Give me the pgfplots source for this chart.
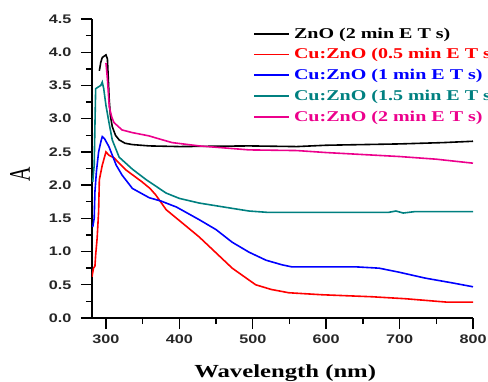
\documentclass[border=0pt]{standalone}
\usepackage{fontspec}
\usepackage{graphicx}
\usepackage{pgfplots}
\pgfplotsset{compat=1.18}
\setmainfont{Liberation Serif}
\newfontfamily\legfont[FakeStretch=1.34]{Liberation Serif}
\newfontfamily\tickfont[FakeStretch=1.3]{Liberation Sans}
\definecolor{cteal}{RGB}{0,128,128}
\begin{document}
\begin{tikzpicture}
\begin{axis}[
  scale only axis,
  width=381bp, height=299bp,
  at={(0,0)}, anchor=south west,
  xmin=281, xmax=800, ymin=0, ymax=4.5,
  axis lines=left,
  axis line style={-, line width=1.6bp},
  tick style={line width=1.4bp, black},
  tick align=outside,
  major tick length=11bp, minor tick length=6bp,
  xtick={300,400,500,600,700,800},
  minor xtick={350,450,550,650,750},
  ytick={0,0.5,1,1.5,2,2.5,3,3.5,4,4.5},
  minor ytick={0.25,0.75,1.25,1.75,2.25,2.75,3.25,3.75,4.25},
  /pgf/number format/assume math mode=true,
  yticklabel style={/pgf/number format/.cd, fixed, fixed zerofill, precision=1},
  tick label style={font=\tickfont\bfseries\fontsize{12.5}{14}\selectfont, text=black!85},
  yticklabel shift=6bp,
  xticklabel shift=2bp,
  xlabel={Wavelength (nm)},
  xlabel style={at={(axis description cs:0.507,0)}, anchor=base, yshift=-59bp, font=\legfont\bfseries\fontsize{18.5}{20}\selectfont},
  ylabel={\scalebox{1}[1.5]{A}},
  ylabel style={at={(axis description cs:-0.189,0.48)}, anchor=center, font=\fontsize{20}{22}\selectfont},
  legend cell align=left,
  legend style={at={(axis description cs:0.4226,0.975)}, anchor=north west, draw=none, fill=none,
    inner sep=0pt, row sep=7bp, column sep=3bp,
    nodes={inner sep=1bp}, font=\legfont\bfseries\fontsize{15}{16}\selectfont},
  legend image code/.code={\draw[#1, line width=1.8bp] (0bp,0bp) -- (35bp,0bp);},
  every axis plot/.append style={line width=1.6bp},
]
\addplot[black] coordinates {
(291,3.72) (293,3.85) (295,3.92) (300,3.96) (302,3.9) (304.5,3.28) (306,3.05) (308.6,2.88) (313,2.75) (318,2.68) (326,2.63) (336,2.61) (359,2.59) (400,2.58) (495,2.59) (560,2.58) (600,2.6) (700,2.62) (760,2.64) (800,2.66)
};
\addlegendentry{\textcolor{black}{ZnO (2 min E T s)}}
\addplot[red] coordinates {
(281,0.62) (283,0.75) (285,0.78) (286,0.95) (288,1.2) (290,1.6) (291,2.08) (295,2.3) (300,2.5) (304,2.45) (311,2.41) (327,2.23) (349,2.05) (360,1.95) (368,1.85) (382,1.63) (404,1.43) (427,1.22) (450,0.98) (472,0.75) (495,0.57) (504,0.5) (525,0.43) (549,0.38) (594,0.35) (662,0.32) (708,0.29) (763,0.24) (800,0.24)
};
\addlegendentry{\textcolor{red}{Cu:ZnO (0.5 min E T s)}}
\addplot[blue] coordinates {
(282,1.37) (284,1.5) (285,1.9) (287,2.2) (290,2.5) (293,2.65) (295,2.73) (298,2.7) (304,2.58) (314,2.3) (322,2.15) (336,1.95) (359,1.81) (375,1.76) (396,1.67) (427,1.48) (450,1.33) (472,1.14) (495,0.99) (518,0.87) (540,0.8) (553,0.77) (590,0.77) (640,0.77) (672,0.75) (699,0.69) (735,0.6) (771,0.53) (800,0.47)
};
\addlegendentry{\textcolor{blue}{Cu:ZnO (1 min E T s)}}
\addplot[cteal] coordinates {
(282,2.05) (284,2.3) (285,2.9) (286,3.45) (290,3.48) (293,3.5) (295,3.55) (297,3.45) (300,3.2) (304,2.95) (308.6,2.68) (318,2.42) (336,2.24) (355,2.08) (382,1.88) (400,1.8) (427,1.73) (472,1.65) (495,1.61) (520,1.59) (600,1.59) (685,1.59) (695,1.61) (705,1.58) (720,1.6) (800,1.6)
};
\addlegendentry{\textcolor{cteal}{Cu:ZnO (1.5 min E T s)}}
\addplot[magenta] coordinates {
(300,3.84) (302,3.6) (304.5,3.18) (308,3.02) (311,2.94) (322,2.83) (336,2.79) (359,2.74) (368,2.71) (390,2.64) (427,2.59) (495,2.53) (560,2.52) (600,2.49) (700,2.43) (750,2.39) (800,2.33)
};
\addlegendentry{\textcolor{magenta}{Cu:ZnO (2 min E T s)}}
\end{axis}
\pgfresetboundingbox
\path (-92bp,-64bp) rectangle (396bp,318bp);
\end{tikzpicture}
\end{document}
